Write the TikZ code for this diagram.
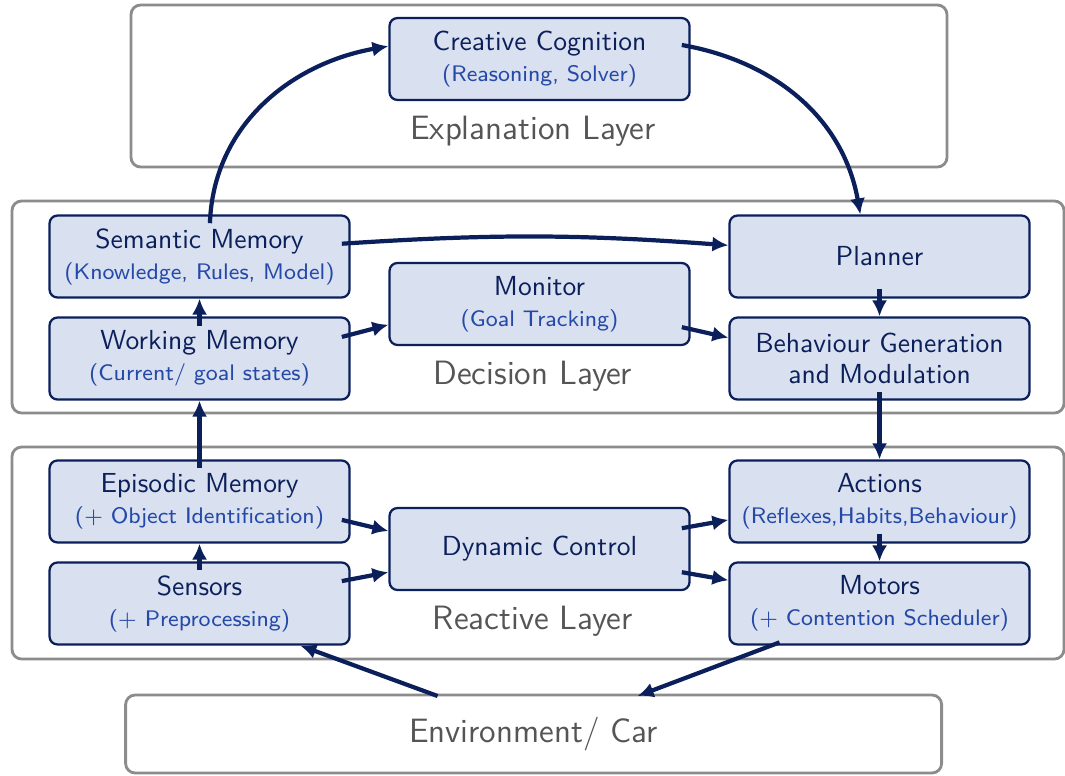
\documentclass[tikz,border=0pt]{standalone}
\usepackage{xcolor}
\usepackage{tikz}
\usetikzlibrary{arrows.meta}
\definecolor{navy}{HTML}{0B1F5B}
\definecolor{subblue}{HTML}{2449A8}
\definecolor{boxfill}{HTML}{D9E0EF}
\definecolor{framegray}{HTML}{8C8C8C}
\definecolor{layertext}{HTML}{555555}
\newcommand{\subtext}[1]{{\fontsize{8}{10.8}\selectfont\color{subblue}#1}}
\tikzset{
  box/.style={draw=navy, fill=boxfill, line width=0.8pt, rounded corners=1mm,
    minimum width=3.75cm, minimum height=1.025cm, inner xsep=1pt, align=center, text=navy,
    font=\sffamily\fontsize{9.8}{11}\selectfont},
  layer/.style={draw=framegray, line width=1pt, rounded corners=1.2mm},
  layername/.style={text=layertext, font=\sffamily\fontsize{12}{14}\selectfont},
  arr/.style={-{Latex[length=2mm,width=1.9mm]}, draw=navy, line width=1.5pt}
}

\begin{document}
\begin{tikzpicture}
\useasboundingbox (0,0) rectangle (13.3125,9.6875);
% layers
\node[layer, minimum width=10.2cm, minimum height=2.025cm] (explain) at (6.7375,8.6125) {};
\node[layer, minimum width=13.15cm, minimum height=2.65cm] (decision) at (6.725,5.85) {};
\node[layer, minimum width=13.15cm, minimum height=2.65cm] (reactive) at (6.725,2.775) {};
\node[layer, layername, minimum width=10.2cm, minimum height=0.975cm] (env) at (6.67,0.5125) {Environment/ Car};
\node[layername] (explainname) at (6.66,8.05) {Explanation Layer};
\node[layername] (decisionname) at (6.66,4.99) {Decision Layer};
\node[layername] (reactivename) at (6.66,1.925) {Reactive Layer};

% explanation layer
\node[box] (cc) at (6.744,8.95) {Creative Cognition\\\subtext{(Reasoning, Solver)}};

% decision layer
\node[box] (sem) at (2.494,6.481) {Semantic Memory\\\subtext{(Knowledge, Rules, Model)}};
\node[box] (wm) at (2.494,5.206) {Working Memory\\\subtext{(Current/ goal states)}};
\node[box] (mon) at (6.744,5.888) {Monitor\\\subtext{(Goal Tracking)}};
\node[box] (plan) at (10.994,6.481) {Planner};
\node[box] (beh) at (10.994,5.206) {Behaviour Generation\\and Modulation};

% reactive layer
\node[box] (epi) at (2.494,3.419) {Episodic Memory\\\subtext{(+ Object Identification)}};
\node[box] (sen) at (2.494,2.144) {Sensors\\\subtext{(+ Preprocessing)}};
\node[box] (dyn) at (6.744,2.825) {Dynamic Control};
\node[box] (act) at (10.994,3.419) {Actions\\\subtext{(Reflexes,Habits,Behaviour)}};
\node[box] (mot) at (10.994,2.144) {Motors\\\subtext{(+ Contention Scheduler)}};

% arrows over the layers
\draw[arr] ([shift={(0.13,-0.11)}]sem.north) to[out=88,in=190] ([yshift=0.16cm]cc.west);
\draw[arr] ([shift={(-0.11,0.175)}]cc.east) to[out=-10,in=100] ([xshift=-0.24cm]plan.north);
\draw[arr] ([shift={(-0.11,0.16)}]sem.east) to[bend left=4] ([yshift=0.14cm]plan.west);

% decision
\draw[arr] ([yshift=-0.12cm]wm.north) -- (sem.south);
\draw[arr] ([shift={(-0.11,0.27)}]wm.east) -- ([yshift=-0.26cm]mon.west);
\draw[arr] ([shift={(-0.11,-0.29)}]mon.east) -- ([yshift=0.26cm]beh.west);
\draw[arr] ([yshift=0.125cm]plan.south) -- (beh.north);
\draw[arr] ([yshift=0.11cm]beh.south) -- (act.north);

% reactive
\draw[arr] ([yshift=-0.11cm]epi.north) -- (wm.south);
\draw[arr] ([yshift=-0.11cm]sen.north) -- (epi.south);
\draw[arr] ([shift={(-0.11,-0.23)}]epi.east) -- ([yshift=0.225cm]dyn.west);
\draw[arr] ([shift={(-0.11,0.28)}]sen.east) -- ([yshift=-0.29cm]dyn.west);
\draw[arr] ([shift={(-0.11,0.26)}]dyn.east) -- ([yshift=-0.23cm]act.west);
\draw[arr] ([shift={(-0.11,-0.29)}]dyn.east) -- ([yshift=0.29cm]mot.west);
\draw[arr] ([yshift=0.125cm]act.south) -- (mot.north);

% environment
\draw[arr] ([shift={(-1.2,-0.03)}]env.north) -- ([xshift=1.26cm]sen.south);
\draw[arr] ([shift={(-1.25,0.04)}]mot.south) -- ([shift={(1.3,-0.03)}]env.north);
\end{tikzpicture}
\end{document}
